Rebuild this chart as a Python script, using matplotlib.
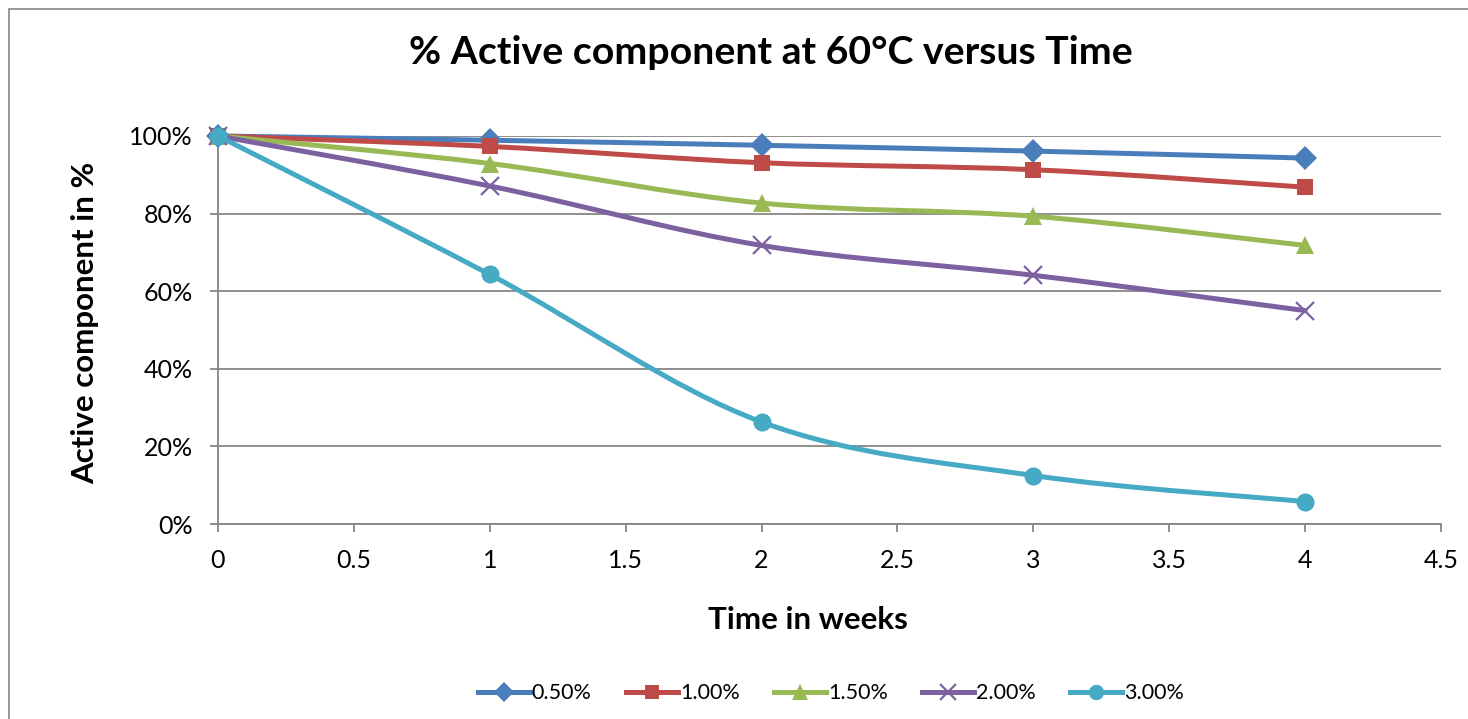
import numpy as np
import matplotlib.pyplot as plt
from matplotlib.path import Path
from matplotlib.patches import PathPatch, Rectangle
from matplotlib.lines import Line2D
from matplotlib.ticker import PercentFormatter

plt.rcParams['font.family'] = ['Lato', 'DejaVu Sans']

# data
weeks = [0, 1, 2, 3, 4]
series_names = ['0.50%', '1.00%', '1.50%', '2.00%', '3.00%']
conc_050 = [100, 98.9, 97.6, 96.1, 94.3]
conc_100 = [100, 97.3, 93.1, 91.3, 86.8]
conc_150 = [100, 92.9, 82.7, 79.3, 71.8]
conc_200 = [100, 87.1, 71.8, 64.1, 55.0]
conc_300 = [100, 64.3, 26.3, 12.5, 5.8]

colors = ['#4A7EBB', '#BE4B48', '#98B954', '#7D60A0', '#46AAC5']
markers = ['D', 's', '^', 'x', 'o']
msizes = [12, 12, 13, 13, 13]


def smooth_path(x, y):
    # Excel-style smoothed line as bezier segments
    pts = np.column_stack([x, y]).astype(float)
    n = len(pts)
    verts = [pts[0]]
    codes = [Path.MOVETO]
    for i in range(n - 1):
        p0 = pts[max(i - 1, 0)]
        p1 = pts[i]
        p2 = pts[i + 1]
        p3 = pts[min(i + 2, n - 1)]
        c1 = p1 + (p2 - p0) / 6
        c2 = p2 - (p3 - p1) / 6
        verts += [c1, c2, p2]
        codes += [Path.CURVE4] * 3
    return Path(verts, codes)


fig = plt.figure(figsize=(14.68, 7.19), dpi=100)
ax = fig.add_axes([0.1485, 0.2712, 0.8331, 0.5397])

# outer chart border
fig.patches.append(Rectangle((9 / 1468, -0.05), 1.1, 1 - 9 / 719 + 0.05,
                             transform=fig.transFigure, fill=False,
                             edgecolor='#868686', linewidth=1.2))

all_series = [conc_050, conc_100, conc_150, conc_200, conc_300]
handles = []
for vals, name, c, m, ms in zip(all_series, series_names, colors, markers, msizes):
    ax.add_patch(PathPatch(smooth_path(weeks, vals), fill=False, edgecolor=c,
                           linewidth=3.6, capstyle='round', joinstyle='round',
                           clip_on=False, zorder=3))
    mew = 1.6 if m == 'x' else 0
    ax.plot(weeks, vals, linestyle='none', marker=m, markersize=ms, color=c,
            markeredgewidth=mew, clip_on=False, zorder=4)
    handles.append(Line2D([], [], color=c, linewidth=3.6, marker=m,
                          markersize=ms * 0.85, markeredgewidth=mew, label=name))

ax.set_xlim(0, 4.5)
ax.set_ylim(0, 100)
ax.set_xticks(np.arange(0, 4.51, 0.5))
ax.set_xticklabels(['0', '0.5', '1', '1.5', '2', '2.5', '3', '3.5', '4', '4.5'])
ax.set_yticks(np.arange(0, 101, 20))
ax.yaxis.set_major_formatter(PercentFormatter(decimals=0))
ax.grid(axis='y', color='#868686', linewidth=1.3)
ax.set_axisbelow(True)
for s in ['top', 'right']:
    ax.spines[s].set_visible(False)
for s in ['left', 'bottom']:
    ax.spines[s].set_color('#868686')
    ax.spines[s].set_linewidth(1.3)
ax.tick_params(axis='both', direction='out', length=6, width=1.3,
               color='#868686', labelsize=18)
ax.tick_params(axis='y', pad=12)
ax.tick_params(axis='x', pad=12)

fig.text(771 / 1468, 1 - 53 / 719, '% Active component at 60°C versus Time',
         fontsize=28.3, fontweight='bold', ha='center', va='center')
ax.set_xlabel('Time in weeks', fontsize=22.5, fontweight='bold')
ax.xaxis.set_label_coords((808 - 218) / 1223, -(620 - 524) / 388, transform=ax.transAxes)
ax.xaxis.label.set_va('center')
ax.set_ylabel('Active component in %', fontsize=22.5, fontweight='bold')
ax.yaxis.set_label_coords(-(218 - 85) / 1223, (524 - 323) / 388, transform=ax.transAxes)
ax.yaxis.label.set_va('center')

fig.legend(handles=handles, loc='center', bbox_to_anchor=(0.566, 0.036),
           ncol=5, frameon=False, fontsize=15.5, handlelength=2.4,
           handletextpad=0.1, columnspacing=1.6)

fig.savefig('out.png', dpi=100)
